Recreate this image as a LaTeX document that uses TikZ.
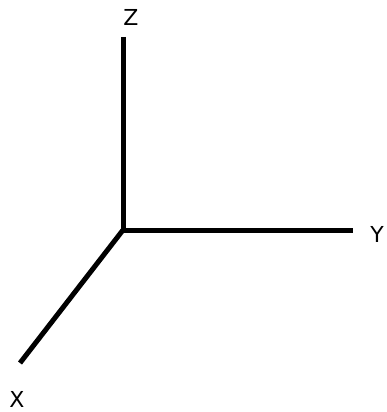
\documentclass[tikz,border=0pt]{standalone}
\usepackage{fontspec}
\setmainfont{DejaVu Sans}
\usepackage{tikz}
\usetikzlibrary{positioning}

\begin{document}
\begin{tikzpicture}[
    x=1pt, y=-1pt,
    axis/.style={line width=5pt},
    axislabel/.style={font=\fontsize{22}{22}\selectfont, inner sep=0pt, anchor=center}
]
    \useasboundingbox (0,0) rectangle (387,412);
    \coordinate (origin) at (123,230);
    \coordinate (zend) at (123,37);
    \coordinate (yend) at (353,230);
    \coordinate (xend) at (20,363);
    \node [axislabel] (zlabel) at (131,17) {Z};
    \node [axislabel] (ylabel) at (377,234) {Y};
    \node [axislabel] (xlabel) at (17,399) {X};
    \draw [axis] (zend) -- (origin) -- (yend);
    \draw [axis] (origin) -- (xend);
\end{tikzpicture}
\end{document}
